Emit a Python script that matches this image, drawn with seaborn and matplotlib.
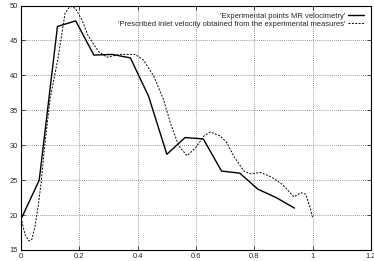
import numpy as np
import pandas as pd
import matplotlib
matplotlib.use("Agg")
import matplotlib.pyplot as plt
import seaborn as sns

# Experimental points (MR velocimetry), sampled every 1/16
exp_x = [0.0, 0.0625, 0.125, 0.1875, 0.25, 0.3125, 0.375, 0.4375,
         0.5, 0.5625, 0.625, 0.6875, 0.75, 0.8125, 0.875, 0.9375]
exp_v = [19.4, 25.0, 47.0, 47.8, 42.9, 43.0, 42.5, 37.0,
         28.7, 31.1, 30.9, 26.3, 26.0, 23.7, 22.5, 21.0]

# Prescribed inlet velocity (smooth curve)
fit_x = [0.0, 0.014, 0.027, 0.037, 0.048, 0.059, 0.069, 0.080, 0.100,
         0.128, 0.151, 0.168, 0.186, 0.208, 0.231, 0.266, 0.294, 0.317,
         0.340, 0.392, 0.420, 0.455, 0.489, 0.512, 0.541, 0.569, 0.598,
         0.627, 0.649, 0.684, 0.705, 0.730, 0.764, 0.787, 0.821, 0.856,
         0.896, 0.936, 0.959, 0.976, 0.993, 1.0]
fit_v = [19.6, 17.2, 16.3, 16.5, 18.4, 21.3, 24.6, 29.4, 36.7,
         42.7, 48.9, 49.9, 49.6, 48.0, 45.6, 43.4, 42.6, 42.8,
         43.0, 43.0, 42.2, 39.9, 36.5, 33.2, 29.9, 28.5, 29.6,
         31.3, 31.9, 31.3, 30.4, 28.4, 26.3, 25.9, 26.1, 25.5,
         24.4, 22.6, 23.2, 23.0, 20.8, 19.6]

exp_label = "'Experimental points MR velocimetry'"
fit_label = "'Prescribed inlet velocity obtained from the experimental measures'"

sns.set_style("ticks")
plt.rcParams['font.family'] = ['Liberation Sans', 'DejaVu Sans']

fig = plt.figure(figsize=(3.74, 2.61), dpi=100)
ax = fig.add_axes([21 / 374, 11 / 261, 350 / 374, 244.5 / 261])

df_exp = pd.DataFrame({'x': exp_x, 'v': exp_v})
df_fit = pd.DataFrame({'x': fit_x, 'v': fit_v})

sns.lineplot(data=df_exp, x='x', y='v', ax=ax, color='black', linewidth=1.0,
             label=exp_label, sort=False)
sns.lineplot(data=df_fit, x='x', y='v', ax=ax, color='black', linewidth=0.7,
             linestyle=(0, (2, 1.5)), label=fit_label, sort=False)

ax.set_xlim(0, 1.2)
ax.set_ylim(15, 50)
ax.set_xticks(np.arange(0, 1.21, 0.2))
ax.set_xticklabels(['0', '0.2', '0.4', '0.6', '0.8', '1', '1.2'])
ax.set_yticks(np.arange(15, 51, 5))
ax.set_xlabel('')
ax.set_ylabel('')

ax.grid(True, color='#777777', linestyle=(0, (1, 1.5)), linewidth=0.6)
ax.tick_params(direction='in', length=3, width=0.6, labelsize=5.4,
               top=True, right=True, pad=2)
for s in ax.spines.values():
    s.set_linewidth(0.8)
    s.set_color('black')

ax.legend(loc='upper right', frameon=False, fontsize=5.5, markerfirst=False,
          handlelength=2.1, labelspacing=0.1, borderaxespad=0.5,
          handletextpad=0.4)

fig.savefig('out.png', dpi=100)
